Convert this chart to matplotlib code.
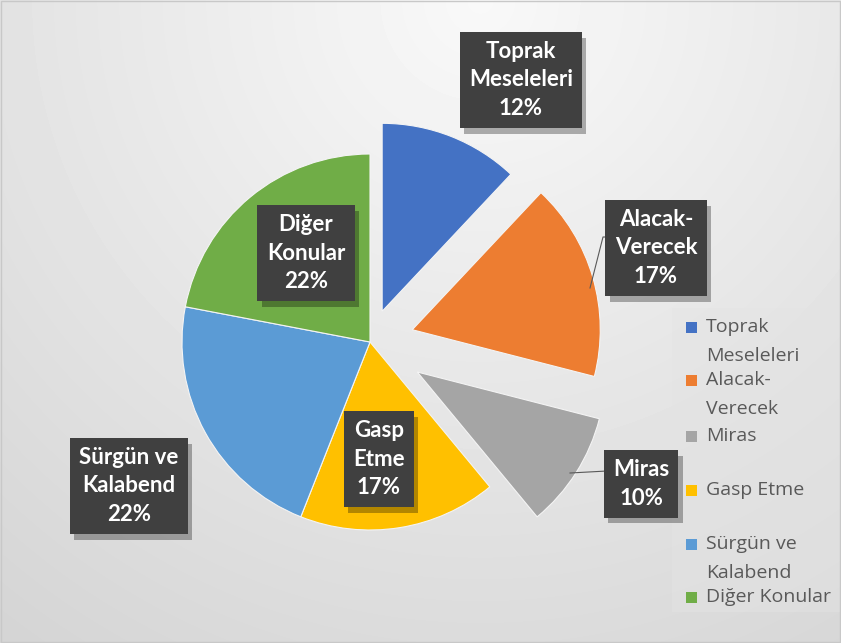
import matplotlib
matplotlib.use('Agg')
import matplotlib.pyplot as plt
import matplotlib.patheffects as pe
import numpy as np
from matplotlib.patches import Rectangle

categories = ['Toprak Meseleleri', 'Alacak-Verecek', 'Miras', 'Gasp Etme',
              'Sürgün ve Kalabend', 'Diğer Konular']
values = [12, 17, 10, 17, 22, 22]
colors = ['#4472C4', '#ED7D31', '#A5A5A5', '#FFC000', '#5B9BD5', '#70AD47']
box_labels = ['Toprak\nMeseleleri', 'Alacak-\nVerecek', 'Miras', 'Gasp\nEtme',
              'Sürgün ve\nKalabend', 'Diğer\nKonular']
legend_labels = ['Toprak\nMeseleleri', 'Alacak-\nVerecek', 'Miras', 'Gasp Etme',
                 'Sürgün ve\nKalabend', 'Diğer Konular']

W, H = 841, 643
fig = plt.figure(figsize=(W / 100, H / 100), dpi=100)
ax = fig.add_axes([0, 0, 1, 1])

# background gradient
yy, xx = np.mgrid[0:H, 0:W]
d = np.hypot(xx - 480, yy - 0)
bg = 0.975 - 0.14 * np.clip(d / 780, 0, 1)
ax.imshow(bg, cmap='gray', vmin=0, vmax=1, extent=(0, W, 0, H), origin='upper',
          zorder=0, interpolation='bilinear')

# legend panel
ax.add_patch(Rectangle((672, H - 612), W - 672, 304, facecolor='#e4e4e4',
                       alpha=0.45, edgecolor='none', zorder=0.5))

R = 188
cx, cy = 370, H - 342
explode = [33, 44, 56, 0, 0, 0]
wedges, _ = ax.pie(values, colors=colors, explode=explode, startangle=90,
                   counterclock=False, radius=R, center=(cx, cy),
                   wedgeprops=dict(edgecolor='#f4f4f4', linewidth=0.8),
                   frame=True)
for w in wedges:
    w.set_zorder(2)

# data labels
label_pos = [(521, 80), (656, 248), (641, 484), (379, 459), (129, 486), (306, 253)]
for lab, v, (px, py) in zip(box_labels, values, label_pos):
    txt = f'{lab}\n{v}%'
    t = ax.text(px, H - py, txt, ha='center', va='center', color='white',
                fontsize=16, fontfamily='Lato', fontweight='bold', linespacing=1.42,
                bbox=dict(boxstyle='square,pad=0.42', facecolor='#404040',
                          edgecolor='none'), zorder=4)
    t.get_bbox_patch().set_path_effects(
        [pe.SimplePatchShadow(offset=(3, -4), shadow_rgbFace='black', alpha=0.3),
         pe.Normal()])

# leader lines
ax.plot([590, 603, 615], [H - 288, H - 237, H - 237], color='#595959', lw=0.8, zorder=3)
ax.plot([570, 607], [H - 473, H - 471], color='#595959', lw=0.8, zorder=3)

# legend
leg_y = [327, 380, 436, 490, 544, 597]
for lab, col, ly in zip(legend_labels, colors, leg_y):
    ax.add_patch(Rectangle((686, H - ly - 5.5), 11, 11, facecolor=col,
                           edgecolor='none', zorder=3))
    for i, line in enumerate(lab.split('\n')):
        ax.text(706, H - ly - i * 29, line, ha='left', va='center',
                color='#595959', fontsize=14, fontfamily='Open Sans', zorder=3)

# border
ax.add_patch(Rectangle((1, 1), W - 2, H - 2, facecolor='none', edgecolor='#c8c8c8',
                       lw=1, zorder=5))

ax.set_xlim(0, W)
ax.set_ylim(0, H)
ax.set_aspect('equal')
ax.axis('off')
fig.savefig('out.png', dpi=100)
